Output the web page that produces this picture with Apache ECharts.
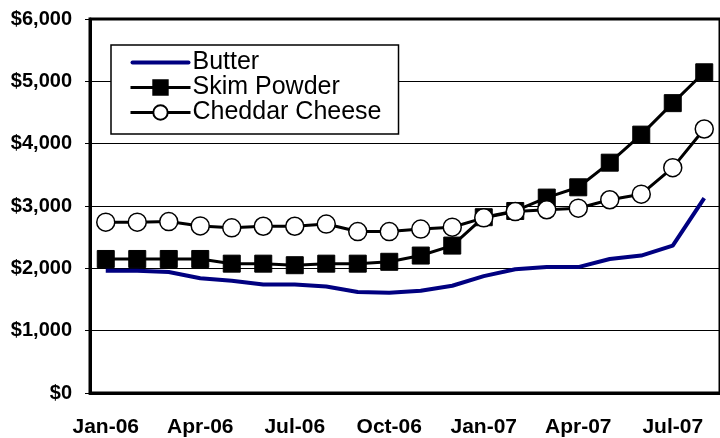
<!DOCTYPE html>
<html>
<head>
<meta charset="utf-8">
<script src="https://cdn.jsdelivr.net/npm/echarts@6/dist/echarts.min.js"></script>
<style>
  html, body { margin: 0; padding: 0; background: #fff; }
  #chart { width: 720px; height: 438px; }
</style>
</head>
<body>
<div id="chart"></div>
<script>
// months Jan-06 .. Aug-07
var months = ['Jan-06', 'Feb-06', 'Mar-06', 'Apr-06', 'May-06', 'Jun-06', 'Jul-06', 'Aug-06',
  'Sep-06', 'Oct-06', 'Nov-06', 'Dec-06', 'Jan-07', 'Feb-07', 'Mar-07', 'Apr-07',
  'May-07', 'Jun-07', 'Jul-07', 'Aug-07'];

// values ($ per tonne)
var butter = [1960, 1960, 1940, 1840, 1800, 1740, 1740, 1710, 1620, 1610,
  1640, 1720, 1875, 1985, 2020, 2020, 2150, 2205, 2365, 3125];
var skimPowder = [2150, 2150, 2150, 2150, 2075, 2075, 2050, 2075, 2075, 2105,
  2205, 2365, 2820, 2920, 3135, 3300, 3695, 4145, 4650, 5145];
var cheddar = [2740, 2740, 2750, 2680, 2650, 2675, 2675, 2710, 2590, 2590,
  2630, 2660, 2810, 2910, 2940, 2965, 3100, 3190, 3615, 4235];

var yTicks = [0, 1000, 2000, 3000, 4000, 5000, 6000];

var font = "'Liberation Sans', Arial, sans-serif";

var chart = echarts.init(document.getElementById('chart'));
chart.setOption({
  animation: false,
  grid: {
    left: 90, top: 19, width: 634, height: 376,
    show: true, borderColor: '#000', borderWidth: 3
  },
  legend: {
    orient: 'vertical',
    left: 111, top: 45,
    padding: [5, 17, 9, 18],
    backgroundColor: '#fff',
    borderColor: '#000',
    borderWidth: 1.5,
    itemWidth: 60, itemHeight: 18, itemGap: 0,
    lineStyle: { width: 3 },
    textStyle: { fontFamily: font, fontSize: 25, color: '#000', lineHeight: 25, padding: [0, 0, 0, -3] },
    data: [
      { name: 'Butter', icon: 'path://M2,0 L58,0 A2,2 0 0 1 58,4 L2,4 A2,2 0 0 1 2,0 Z', itemStyle: { color: '#000080' } },
      'Skim Powder',
      'Cheddar Cheese'
    ]
  },
  xAxis: {
    type: 'category',
    data: months,
    boundaryGap: true,
    axisLine: { lineStyle: { color: '#000', width: 3 } },
    axisTick: { interval: 2, length: 5, lineStyle: { color: '#000', width: 1 } },
    axisLabel: {
      interval: 2, margin: 24, color: '#000',
      fontFamily: font, fontSize: 21, fontWeight: 'bold'
    },
    splitLine: { show: false }
  },
  yAxis: {
    type: 'value',
    min: yTicks[0], max: yTicks[yTicks.length - 1], interval: 1000,
    axisLine: { show: true, lineStyle: { color: '#000', width: 3 } },
    axisTick: { show: true, length: 5, lineStyle: { color: '#000', width: 1 } },
    axisLabel: {
      margin: 18, color: '#000',
      fontFamily: font, fontSize: 20, fontWeight: 'bold',
      formatter: function (v) { return '$' + v.toLocaleString('en-US'); }
    },
    splitLine: { lineStyle: { color: '#000', width: 1 } }
  },
  series: [
    {
      name: 'Butter', type: 'line', data: butter,
      symbol: 'none', showSymbol: false,
      lineStyle: { color: '#000080', width: 4 },
      itemStyle: { color: '#000080' }
    },
    {
      name: 'Skim Powder', type: 'line', data: skimPowder,
      symbol: 'rect', symbolSize: 17,
      lineStyle: { color: '#000', width: 3 },
      itemStyle: { color: '#000', borderColor: '#000', borderWidth: 1 }
    },
    {
      name: 'Cheddar Cheese', type: 'line', data: cheddar,
      symbol: 'circle', symbolSize: 18,
      lineStyle: { color: '#000', width: 3 },
      itemStyle: { color: '#fff', borderColor: '#000', borderWidth: 1.5 }
    }
  ]
});
</script>
</body>
</html>
